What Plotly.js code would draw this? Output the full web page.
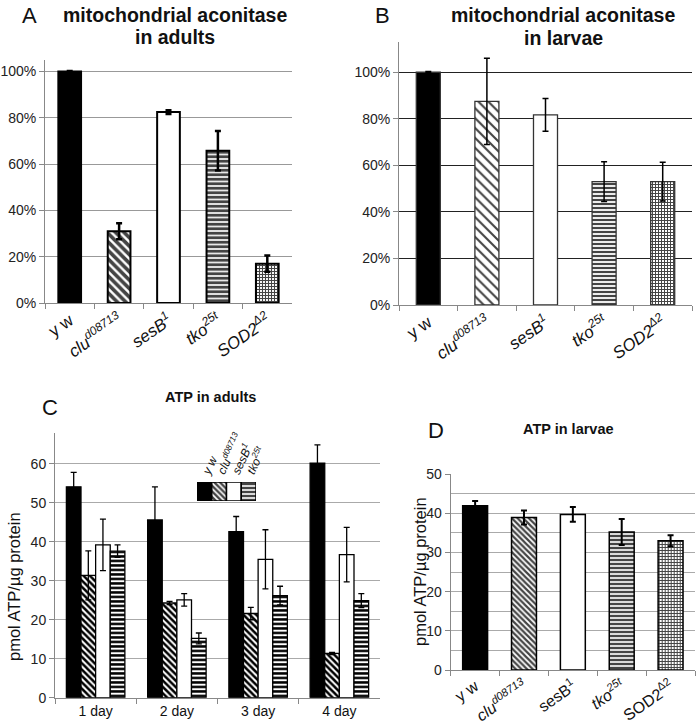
<!DOCTYPE html>
<html>
<head>
<meta charset="utf-8">
<script src="https://cdn.plot.ly/plotly-3.0.1.min.js"></script>
<style>html,body{margin:0;padding:0;background:#fff;}#chart{width:699px;height:725px;}</style>
</head>
<body>
<div id="chart"></div>
<script>
// ---------- data ----------
const genoLabelsAB = ['y w', '<i>clu</i><sup><i>d08713</i></sup>', '<i>sesB</i><sup><i>1</i></sup>', '<i>tko</i><sup><i>25t</i></sup>', '<i>SOD2</i><sup><i>Δ2</i></sup>'];
const genoLabelsD = ['y w', '<i>clu</i><sup><i>d08713</i></sup>', 'sesB<sup>1</sup>', '<i>tko</i><sup><i>25t</i></sup>', 'SOD2<sup>Δ2</sup>'];
const legendLabels = ['<i>y w</i>', '<i>clu</i><sup><i>d08713</i></sup>', '<i>sesB</i><sup><i>1</i></sup>', '<i>tko</i><sup><i>25t</i></sup>'];

const aconAdult = [1.00, 0.31, 0.825, 0.658, 0.17];
const aconAdultErr = [0.003, 0.035, 0.008, 0.085, 0.035];
const aconLarvae = [1.00, 0.875, 0.817, 0.53, 0.53];
const aconLarvaeErr = [0.003, 0.185, 0.07, 0.085, 0.083];

const days = ['1 day', '2 day', '3 day', '4 day'];
const atpAdultYW = [54.1, 45.6, 42.6, 60.2];
const atpAdultYWErr = [3.7, 8.5, 3.9, 4.7];
const atpAdultClu = [31.4, 24.3, 21.6, 11.35];
const atpAdultCluErr = [6.3, 0.4, 1.6, 0.3];
const atpAdultSesB = [39.2, 25.1, 35.5, 36.7];
const atpAdultSesBErr = [6.6, 1.6, 7.6, 7.0];
const atpAdultTko = [37.6, 15.2, 26.2, 24.9];
const atpAdultTkoErr = [1.6, 1.4, 2.4, 1.8];

const atpLarvae = [41.9, 38.9, 39.7, 35.2, 33.0];
const atpLarvaeErr = [1.2, 1.8, 1.9, 3.3, 1.4];
const legendSwatch = [1, 1, 1, 1];

// ---------- styles ----------
const FONT = 'Liberation Sans, Arial, sans-serif';
const W = 699, H = 725;
const px = v => v / W;
const py = v => 1 - v / H;

const fillColors = ['#000', '#fff', '#fff', '#fff', '#fff'];
function pat(shapes, sizes, sol, fg, bg) {
  return {shape: shapes, size: sizes, solidity: sol, fgcolor: fg, bgcolor: bg, fgopacity: 1, fillmode: 'overlay'};
}

const traces = [];
// A
traces.push({
  type: 'bar', x: genoLabelsAB, y: aconAdult, xaxis: 'x', yaxis: 'y', width: 0.46,
  marker: {color: fillColors, line: {color: '#000', width: 2},
    pattern: pat(['', '\\', '', '-', '+'], [8, 6, 8, 4.5, 3], [0.2, 0.6, 0.2, 0.65, 0.6], ['#000','#000','#000','#000','#000'], ['#000','#fff','#fff','#fff','#fff'])},
  error_y: {type: 'data', array: aconAdultErr, visible: true, color: '#000', thickness: 2.5, width: 3}
});
// B
traces.push({
  type: 'bar', x: genoLabelsAB, y: aconLarvae, xaxis: 'x2', yaxis: 'y2', width: 0.41,
  marker: {color: fillColors, line: {color: '#333', width: 1.3},
    pattern: pat(['', '\\', '', '-', '+'], [8, 7, 8, 4, 3], [0.2, 0.3, 0.2, 0.55, 0.55], ['#000','#111','#000','#222','#222'], ['#000','#fff','#fff','#fff','#ddd'])},
  error_y: {type: 'data', array: aconLarvaeErr, visible: true, color: '#000', thickness: 1.5, width: 3}
});
// C
const cSeries = [
  {y: atpAdultYW, e: atpAdultYWErr, color: '#000', p: ''},
  {y: atpAdultClu, e: atpAdultCluErr, color: '#fff', p: '\\'},
  {y: atpAdultSesB, e: atpAdultSesBErr, color: '#fff', p: ''},
  {y: atpAdultTko, e: atpAdultTkoErr, color: '#fff', p: '-'}
];
cSeries.forEach(s => {
  traces.push({
    type: 'bar', x: days, y: s.y, xaxis: 'x3', yaxis: 'y3',
    marker: {color: s.color, line: {color: '#000', width: 1.3},
      pattern: {shape: s.p, size: 4.5, solidity: 0.55, fgcolor: '#000', fgopacity: 1, bgcolor: s.color, fillmode: 'overlay'}},
    error_y: {type: 'data', array: s.e, visible: true, color: '#000', thickness: 1.3, width: 3}
  });
});
// D
traces.push({
  type: 'bar', x: genoLabelsD, y: atpLarvae, xaxis: 'x4', yaxis: 'y4', width: 0.51,
  marker: {color: fillColors, line: {color: '#000', width: 1.5},
    pattern: pat(['', '\\', '', '-', '+'], [8, 4, 8, 4, 3], [0.2, 0.55, 0.2, 0.6, 0.55], ['#000','#111','#000','#111','#111'], ['#000','#ccc','#fff','#e5e5e5','#bbb'])},
  error_y: {type: 'data', array: atpLarvaeErr, visible: true, color: '#000', thickness: 2, width: 3}
});
// C inset legend (swatches)
traces.push({
  type: 'bar', x: legendLabels, y: legendSwatch, xaxis: 'x5', yaxis: 'y5', width: 1,
  marker: {color: ['#000', '#fff', '#fff', '#fff'], line: {color: '#000', width: 1.5},
    pattern: {shape: ['', '\\', '', '-'], size: [6, 4, 6, 4], solidity: [0.2, 0.6, 0.2, 0.6], fgcolor: '#000', fgopacity: 1, bgcolor: ['#000','#fff','#fff','#fff'], fillmode: 'overlay'}}
});

const catAxis = (dom, anchor, size, angle) => ({
  domain: dom, anchor: anchor, type: 'category', showgrid: false, zeroline: false,
  showline: true, linecolor: '#888', linewidth: 1, ticks: 'outside', tickson: 'boundaries',
  ticklen: 5, tickcolor: '#888', tickangle: angle, tickfont: {family: FONT, size: size, color: '#111'},
  fixedrange: true
});
const valAxis = (dom, anchor, range, dtick, fmt, grid) => ({
  domain: dom, anchor: anchor, range: range, dtick: dtick, tickformat: fmt,
  showgrid: true, gridcolor: grid, gridwidth: 1, zeroline: false,
  showline: true, linecolor: '#888', ticks: 'outside', ticklen: 5, tickcolor: '#888',
  tickfont: {family: FONT, size: 14, color: '#222'}, fixedrange: true
});

function ann(text, x, y, size, angle) {
  return {text: text, x: px(x), y: py(y), xref: 'paper', yref: 'paper', xanchor: 'center', yanchor: 'middle',
    showarrow: false, textangle: angle || 0, font: {family: FONT, size: size, color: '#111'}};
}

const layout = {
  width: W, height: H, margin: {l: 0, r: 0, t: 0, b: 0},
  paper_bgcolor: '#fff', plot_bgcolor: 'rgba(0,0,0,0)',
  showlegend: false, barmode: 'group', bargap: 0.28, bargroupgap: 0, hovermode: false,
  font: {family: FONT, color: '#111'},
  xaxis: catAxis([px(45), px(292)], 'y', 17, -35),
  yaxis: valAxis([py(303), py(60)], 'x', [0, 1.05], 0.2, '.0%', '#999'),
  xaxis2: catAxis([px(399), px(692)], 'y2', 17, -35),
  yaxis2: valAxis([py(305), py(42)], 'x2', [0, 1.13], 0.2, '.0%', '#222'),
  xaxis3: catAxis([px(55), px(380)], 'y3', 14, 0),
  yaxis3: valAxis([py(697.7), py(432.7)], 'x3', [0, 68], 10, '', '#aaa'),
  xaxis4: catAxis([px(450.7), px(695)], 'y4', 16, -35),
  yaxis4: Object.assign(valAxis([py(670), py(474)], 'x4', [0, 50], 10, '', '#aaa'),
    {minor: {dtick: 5, showgrid: true, gridcolor: '#aaa', ticks: ''}}),
  xaxis5: {domain: [px(197), px(256)], anchor: 'y5', type: 'category', side: 'top', showgrid: false,
    zeroline: false, showline: false, ticks: '', tickangle: -65,
    tickmode: 'array', tickvals: legendLabels, ticktext: legendLabels,
    tickfont: {family: FONT, size: 12, color: '#111'}, fixedrange: true},
  yaxis5: {domain: [py(501), py(482)], anchor: 'x5', range: [0, 1], visible: false, fixedrange: true},
  shapes: [
    {type: 'rect', xref: 'x3', yref: 'y3', x0: 1.16, x1: 2.05, y0: 49.5, y1: 67.5,
      fillcolor: '#fff', line: {width: 0}, layer: 'below'}
  ],
  annotations: [
    ann('A', 29, 15, 22),
    ann('<b>mitochondrial aconitase</b>', 175, 15, 19.5),
    ann('<b>in adults</b>', 175, 37, 19.5),
    ann('B', 382, 15, 22),
    ann('<b>mitochondrial aconitase</b>', 563, 15, 19.5),
    ann('<b>in larvae</b>', 563, 38, 19.5),
    ann('C', 50, 407, 22),
    ann('<b>ATP in adults</b>', 211, 397, 14.5),
    ann('pmol ATP/µg protein', 14, 587, 16.5, -90),
    ann('D', 436, 430, 22),
    ann('<b>ATP in larvae</b>', 568, 429, 14.5),
    ann('pmol ATP/µg protein', 420, 572, 16.5, -90)
  ]
};

Plotly.newPlot('chart', traces, layout, {staticPlot: true, displayModeBar: false});
</script>
</body>
</html>
